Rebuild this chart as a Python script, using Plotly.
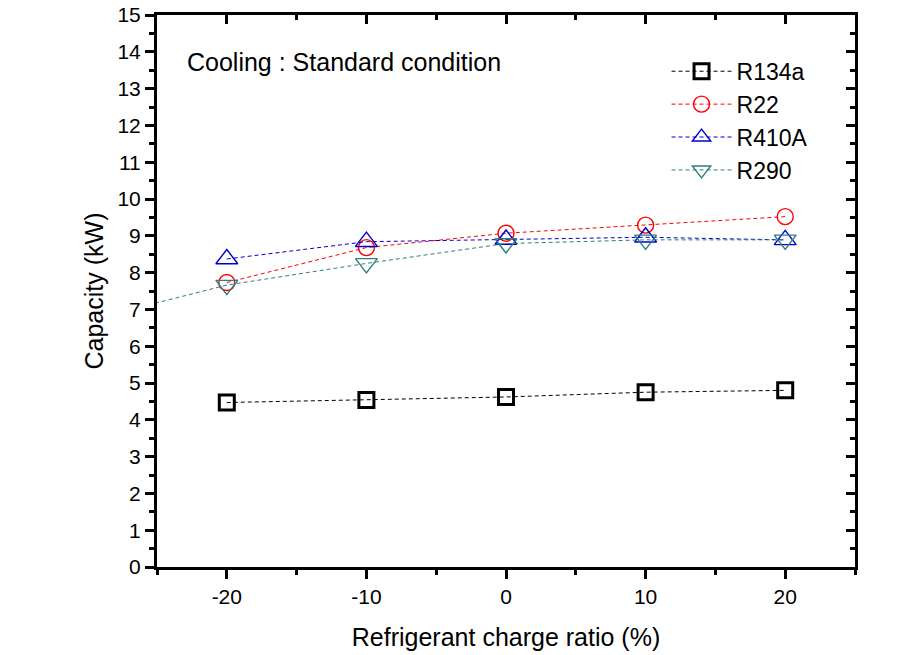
import plotly.graph_objects as go

charge_ratio = [-20, -10, 0, 10, 20]
r290_ratio = [-30, -20, -10, 0, 10, 20]
x_tick_vals = [-20, -10, 0, 10, 20]
x_tick_labels = ["-20", "-10", "0", "10", "20"]

r134a = [4.47, 4.54, 4.62, 4.75, 4.80]
r22 = [7.73, 8.68, 9.07, 9.29, 9.52]
r410a = [8.37, 8.84, 8.90, 8.96, 8.89]
r290 = [6.70, 7.66, 8.25, 8.79, 8.89, 8.89]

FONT = "Liberation Sans, Arial, sans-serif"

fig = go.Figure()

def add(name, x, y, color, symbol, size, lw):
    fig.add_trace(go.Scatter(
        x=x, y=y, name=name, mode="lines+markers",
        line=dict(color=color, width=1, dash="4px,3px"),
        marker=dict(symbol=symbol, size=size, color=color,
                    line=dict(color=color, width=lw)),
        cliponaxis=True,
    ))

add("R134a", charge_ratio, r134a, "#000000", "square-open", 15, 3)
add("R22", charge_ratio, r22, "#ff0000", "circle-open", 16, 1.4)
add("R410A", charge_ratio, r410a, "#0000cc", "triangle-up-open", 19, 1.4)
add("R290", r290_ratio, r290, "#2f7f7f", "triangle-down-open", 19, 1.4)

# helper trace for mirrored axes
fig.add_trace(go.Scatter(x=[None], y=[None], xaxis="x2", yaxis="y2",
                         showlegend=False, hoverinfo="skip"))

axis_common = dict(showline=True, linecolor="black", linewidth=3,
                   showgrid=False, zeroline=False, tickcolor="black",
                   tickwidth=2.5, ticklen=9, automargin=False)
tickfont = dict(family=FONT, size=21, color="black")

fig.update_layout(
    width=913, height=655,
    paper_bgcolor="white", plot_bgcolor="white",
    margin=dict(l=157, r=58, t=15, b=88, autoexpand=False),
    font=dict(family=FONT, color="black"),
    xaxis=dict(range=[-25, 25], tickvals=x_tick_vals, ticktext=x_tick_labels, ticks="outside",
               minor=dict(ticks="outside", dtick=5, ticklen=5, tickwidth=2.5, tickcolor="black"),
               title=dict(text="Refrigerant charge ratio (%)", font=dict(family=FONT, size=25), standoff=22),
               tickfont=tickfont, ticklabeloverflow="allow", **axis_common),
    yaxis=dict(range=[0, 15], dtick=1, ticks="outside",
               minor=dict(ticks="outside", dtick=0.5, ticklen=5, tickwidth=2.5, tickcolor="black"),
               title=dict(text="Capacity (kW)", font=dict(family=FONT, size=25), standoff=7),
               tickfont=tickfont, ticklabeloverflow="allow", **axis_common),
    xaxis2=dict(overlaying="x", side="top", range=[-25, 25], tickvals=x_tick_vals,
                ticks="inside", showticklabels=False, anchor="y",
                minor=dict(ticks="inside", dtick=5, ticklen=5, tickwidth=2.5, tickcolor="black"),
                **axis_common),
    yaxis2=dict(overlaying="y", side="right", range=[0, 15], dtick=1,
                ticks="inside", showticklabels=False, anchor="x",
                minor=dict(ticks="inside", dtick=0.5, ticklen=5, tickwidth=2.5, tickcolor="black"),
                **axis_common),
    legend=dict(x=0.73, y=0.937, xanchor="left", yanchor="top",
                bgcolor="rgba(0,0,0,0)", font=dict(family=FONT, size=23),
                itemwidth=60, tracegroupgap=0),
    annotations=[dict(text="Cooling : Standard condition", xref="paper", yref="paper",
                      x=0.04, y=0.915, xanchor="left", yanchor="middle", showarrow=False,
                      font=dict(family=FONT, size=25, color="black"))],
    showlegend=True,
)

fig.write_html("out.html", config={"displayModeBar": False},
               post_script="document.body.style.margin='0';")
